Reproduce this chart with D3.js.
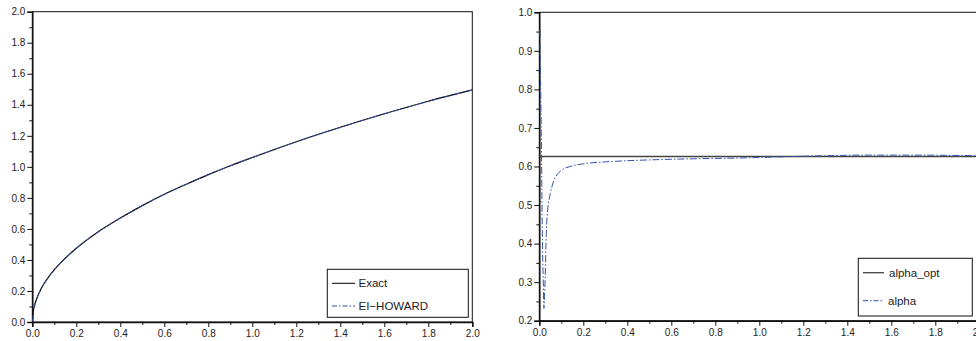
<!DOCTYPE html>
<html>
<head>
<meta charset="utf-8">
<script src="https://cdn.jsdelivr.net/npm/d3@7"></script>
<style>
  body { margin: 0; background: #fff; }
  svg text { font-family: "Liberation Sans", Arial, sans-serif; fill: #222; }
</style>
</head>
<body>
<div id="chart"></div>
<script>
// values
const xGrid = [0, 0.005, 0.01, 0.02, 0.04, 0.07, 0.1, 0.13, 0.2, 0.3, 0.4, 0.5, 0.6, 0.7, 0.8, 0.9, 1.0, 1.2, 1.4, 1.6, 1.8, 2.0];
const exactVals = [0, 0.075, 0.106, 0.15, 0.215, 0.282, 0.337, 0.383, 0.475, 0.582, 0.67, 0.75, 0.823, 0.888, 0.95, 1.007, 1.06, 1.162, 1.255, 1.342, 1.423, 1.496];
const howardVals = [0, 0.074, 0.105, 0.149, 0.214, 0.281, 0.336, 0.382, 0.474, 0.581, 0.669, 0.75, 0.822, 0.887, 0.949, 1.006, 1.059, 1.161, 1.254, 1.341, 1.422, 1.495];

const alphaX = [0.002, 0.005, 0.009, 0.0136, 0.018, 0.021, 0.026, 0.032, 0.038, 0.045, 0.05, 0.065, 0.08, 0.1, 0.14, 0.2, 0.3, 0.4, 0.55, 0.7, 0.9, 1.1, 1.3, 1.5, 1.7, 1.85, 2.0];
const alphaVals = [0.955, 0.85, 0.69, 0.43, 0.30, 0.232, 0.30, 0.43, 0.487, 0.515, 0.53, 0.562, 0.578, 0.59, 0.600, 0.607, 0.612, 0.615, 0.618, 0.620, 0.622, 0.625, 0.628, 0.6295, 0.6295, 0.629, 0.628];
const alphaOpt = 0.626;

const xTicks = [0, 0.2, 0.4, 0.6, 0.8, 1.0, 1.2, 1.4, 1.6, 1.8, 2.0];
const yTicksLeft = [0, 0.2, 0.4, 0.6, 0.8, 1.0, 1.2, 1.4, 1.6, 1.8, 2.0];
const yTicksRight = [0.2, 0.3, 0.4, 0.5, 0.6, 0.7, 0.8, 0.9, 1.0];

const width = 976, height = 341;
const blue = '#3352a8';
const dashDot = '7,2,1.5,2';

const svg = d3.select('#chart').append('svg')
  .attr('width', width)
  .attr('height', height);

function panel(opts) {
  const g = svg.append('g');
  const x = d3.scaleLinear().domain([0, 2]).range([opts.left, opts.left + 440]);
  const y = d3.scaleLinear().domain(opts.yDomain).range([opts.bottom, opts.top]);

  g.append('clipPath').attr('id', opts.id)
    .append('rect')
    .attr('x', x(0)).attr('y', y(opts.yDomain[1]))
    .attr('width', x(2) - x(0)).attr('height', y(opts.yDomain[0]) - y(opts.yDomain[1]));

  // frame
  g.append('rect')
    .attr('x', x(0)).attr('y', y(opts.yDomain[1]))
    .attr('width', x(2) - x(0)).attr('height', y(opts.yDomain[0]) - y(opts.yDomain[1]))
    .attr('fill', 'none').attr('stroke', '#111').attr('stroke-width', 1);

  // minor ticks
  const xMinor = d3.range(0.1, 2, 0.2);
  g.append('g')
    .attr('transform', `translate(0,${y(opts.yDomain[0])})`)
    .call(d3.axisBottom(x).tickValues(xMinor).tickSize(3).tickFormat(''))
    .call(a => a.select('.domain').remove());
  const step = opts.yTicks[1] - opts.yTicks[0];
  const yMinor = opts.yTicks.slice(0, -1).map(v => v + step / 2);
  g.append('g')
    .attr('transform', `translate(${x(0)},0)`)
    .call(d3.axisLeft(y).tickValues(yMinor).tickSize(3).tickFormat(''))
    .call(a => a.select('.domain').remove());

  // major axes
  g.append('g')
    .attr('transform', `translate(0,${y(opts.yDomain[0])})`)
    .call(d3.axisBottom(x).tickValues(xTicks).tickSize(5).tickPadding(3).tickFormat(d3.format('.1f')))
    .call(a => a.select('.domain').attr('stroke', '#111').attr('stroke-width', 1.5))
    .call(a => a.selectAll('text').attr('font-size', 10).attr('fill', '#222'));
  g.append('g')
    .attr('transform', `translate(${x(0)},0)`)
    .call(d3.axisLeft(y).tickValues(opts.yTicks).tickSize(5).tickPadding(2).tickFormat(d3.format('.1f')))
    .call(a => a.select('.domain').attr('stroke', '#111').attr('stroke-width', 1.5))
    .call(a => a.selectAll('text').attr('font-size', 10).attr('fill', '#222'));

  g.selectAll('.tick line').attr('stroke', '#111');
  return { g, x, y };
}

// left panel
const L = panel({ id: 'clipL', left: 32.3, top: 11.7, bottom: 322, yDomain: [0, 2], yTicks: yTicksLeft });
const exactLine = d3.line().curve(d3.curveMonotoneX).x((d, i) => L.x(xGrid[i])).y(d => L.y(d));
L.g.append('path').datum(exactVals)
  .attr('clip-path', 'url(#clipL)')
  .attr('d', exactLine)
  .attr('fill', 'none').attr('stroke', '#000').attr('stroke-width', 1.2);
L.g.append('path').datum(howardVals)
  .attr('clip-path', 'url(#clipL)')
  .attr('d', exactLine)
  .attr('fill', 'none').attr('stroke', blue).attr('stroke-width', 1)
  .attr('stroke-dasharray', dashDot);

// left legend
const legL = L.g.append('g');
legL.append('rect').attr('x', 327.3).attr('y', 269.3).attr('width', 141).attr('height', 48)
  .attr('fill', '#fff').attr('stroke', '#111').attr('stroke-width', 1);
legL.append('line').attr('x1', 332).attr('x2', 355).attr('y1', 283.3).attr('y2', 283.3)
  .attr('stroke', '#000').attr('stroke-width', 1);
legL.append('text').attr('x', 358.5).attr('y', 287.3).attr('font-size', 11.5).text('Exact');
legL.append('line').attr('x1', 332).attr('x2', 355).attr('y1', 306).attr('y2', 306)
  .attr('stroke', blue).attr('stroke-width', 1).attr('stroke-dasharray', '5,2,1.5,2');
legL.append('text').attr('x', 358.5).attr('y', 310).attr('font-size', 11.5).text('EI\u2212HOWARD');

// right panel
const R = panel({ id: 'clipR', left: 539.3, top: 12.3, bottom: 320.7, yDomain: [0.2, 1.0], yTicks: yTicksRight });
R.g.append('line')
  .attr('clip-path', 'url(#clipR)')
  .attr('x1', R.x(0)).attr('x2', R.x(2))
  .attr('y1', R.y(alphaOpt)).attr('y2', R.y(alphaOpt))
  .attr('stroke', '#444').attr('stroke-width', 1.3);
const alphaLine = d3.line().curve(d3.curveMonotoneX).x((d, i) => R.x(alphaX[i])).y(d => R.y(d));
R.g.append('path').datum(alphaVals)
  .attr('clip-path', 'url(#clipR)')
  .attr('d', alphaLine)
  .attr('fill', 'none').attr('stroke', blue).attr('stroke-width', 1)
  .attr('stroke-dasharray', dashDot);

// right legend
const legR = R.g.append('g');
legR.append('rect').attr('x', 858.3).attr('y', 258.3).attr('width', 114).attr('height', 57.7)
  .attr('fill', '#fff').attr('stroke', '#111').attr('stroke-width', 1);
legR.append('line').attr('x1', 863).attr('x2', 884).attr('y1', 272.7).attr('y2', 272.7)
  .attr('stroke', '#444').attr('stroke-width', 1.3);
legR.append('text').attr('x', 889).attr('y', 276.7).attr('font-size', 11.5).text('alpha_opt');
legR.append('line').attr('x1', 863).attr('x2', 884).attr('y1', 300.7).attr('y2', 300.7)
  .attr('stroke', blue).attr('stroke-width', 1).attr('stroke-dasharray', '5,2,1.5,2');
legR.append('text').attr('x', 888).attr('y', 304.7).attr('font-size', 11.5).text('alpha');
</script>
</body>
</html>
